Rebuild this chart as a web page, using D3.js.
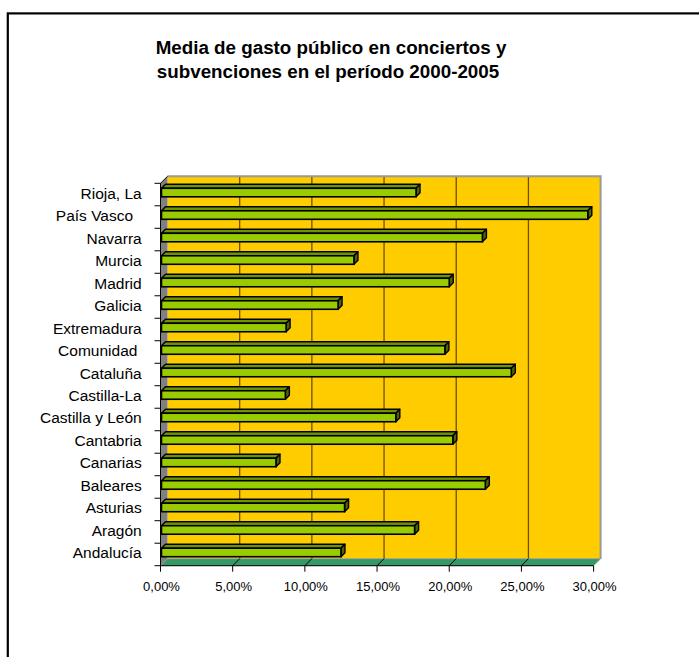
<!DOCTYPE html>
<html>
<head>
<meta charset="utf-8">
<script src="https://cdn.jsdelivr.net/npm/d3@7"></script>
<style>
body { margin: 0; background: #fff; }
text { font-family: "Liberation Sans", Arial, sans-serif; }
</style>
</head>
<body>
<div id="chart"></div>
<script>
/************** Media de gasto publico - barras 3D **************/

var categories = ['Rioja, La', 'País Vasco  ', 'Navarra', 'Murcia', 'Madrid', 'Galicia', 'Extremadura',
	'Comunidad ', 'Cataluña', 'Castilla-La', 'Castilla y León', 'Cantabria', 'Canarias', 'Baleares',
	'Asturias', 'Aragón', 'Andalucía'];
var values = [17.7, 29.6, 22.3, 13.4, 20.0, 12.3, 8.7, 19.7, 24.3, 8.65, 16.3, 20.25, 8.0, 22.5, 12.75, 17.6, 12.5];
var ticks = [0, 5, 10, 15, 20, 25, 30];
var titleLines = ['Media de gasto público en conciertos y', 'subvenciones en el período 2000-2005'];

var width = 699;
var height = 657;
var depth = 7;      // profundidad del grafico 3D
var barDepth = 4;   // profundidad de cada barra
var titleX = [331, 328];

var svg = d3.select("#chart")
	.append("svg")
	.attr("width", width)
	.attr("height", height);

// marco exterior
svg.append("rect")
	.attr("x", 7.8)
	.attr("y", 13.4)
	.attr("width", 720)
	.attr("height", 700)
	.attr("fill", "none")
	.style("stroke", "black")
	.style("stroke-width", "2.2px");

// titulo
svg.selectAll(".title")
	.data(titleLines)
	.enter()
	.append("text")
	.attr("x", function (d, i) { return titleX[i]; })
	.attr("y", function (d, i) { return 53.5 + i * 24.7; })
	.attr("text-anchor", "middle")
	.style("font-size", "18.8px")
	.style("font-weight", "bold")
	.text(function (d) { return d; });

var x = d3.scaleLinear().domain([0, 30]).range([160.5, 593.6]);
var y = d3.scaleBand().domain(categories).range([183.3, 565.7]).padding(0);

var x0 = x(0), x1 = x(30), y0 = y.range()[0], y1 = y.range()[1];

// pared del fondo
svg.append("rect")
	.attr("x", x0 + depth)
	.attr("y", y0 - depth)
	.attr("width", x1 - x0)
	.attr("height", y1 - y0)
	.attr("fill", "#FFCC00");

// lineas de division en el fondo
svg.selectAll(".grid")
	.data(ticks.slice(1, -1))
	.enter()
	.append("line")
	.attr("x1", function (d) { return x(d) + depth; })
	.attr("x2", function (d) { return x(d) + depth; })
	.attr("y1", y0 - depth)
	.attr("y2", y1 - depth)
	.style("stroke", "#6b5000")
	.style("stroke-width", "1.3px");

// borde gris del fondo (arriba y derecha)
svg.append("path")
	.attr("d", "M" + (x0 + depth) + "," + (y0 - depth) + "L" + (x1 + depth) + "," + (y0 - depth) +
		"L" + (x1 + depth) + "," + (y1 - depth))
	.attr("fill", "none")
	.style("stroke", "#999999")
	.style("stroke-width", "2px");

// pared izquierda
svg.append("path")
	.attr("d", "M" + x0 + "," + y0 + "L" + (x0 + depth) + "," + (y0 - depth) + "L" + (x0 + depth) + "," + (y1 - depth) +
		"L" + x0 + "," + y1 + "Z")
	.attr("fill", "#808080");

// suelo
svg.append("path")
	.attr("d", "M" + x0 + "," + y1 + "L" + (x0 + depth) + "," + (y1 - depth) + "L" + (x1 + depth) + "," + (y1 - depth) +
		"L" + x1 + "," + y1 + "Z")
	.attr("fill", "#339966")
	.style("stroke", "#999999")
	.style("stroke-width", "0.8px");

// diagonales del suelo
svg.selectAll(".floorLine")
	.data(ticks.slice(1, -1))
	.enter()
	.append("line")
	.attr("x1", function (d) { return x(d); })
	.attr("x2", function (d) { return x(d) + depth; })
	.attr("y1", y1)
	.attr("y2", y1 - depth)
	.style("stroke", "black")
	.style("stroke-width", "1px");

// barras
var bars = svg.selectAll(".bar")
	.data(values)
	.enter()
	.append("g");

var bx0 = x0 + 1;
function barTop(i) { return y(categories[i]) + 5; }
var barH = 8.5;

// cara superior
bars.append("path")
	.attr("d", function (d, i) {
		var t = barTop(i);
		return "M" + bx0 + "," + t + "L" + (bx0 + barDepth) + "," + (t - barDepth) +
			"L" + (x(d) + barDepth) + "," + (t - barDepth) + "L" + x(d) + "," + t + "Z";
	})
	.attr("fill", "#6f9400")
	.style("stroke", "black")
	.style("stroke-width", "1.4px")
	.style("stroke-linejoin", "round");

// cara lateral
bars.append("path")
	.attr("d", function (d, i) {
		var t = barTop(i);
		return "M" + x(d) + "," + t + "L" + (x(d) + barDepth) + "," + (t - barDepth) +
			"L" + (x(d) + barDepth) + "," + (t + barH - barDepth) + "L" + x(d) + "," + (t + barH) + "Z";
	})
	.attr("fill", "#4d6600")
	.style("stroke", "black")
	.style("stroke-width", "1.4px")
	.style("stroke-linejoin", "round");

// cara frontal
bars.append("rect")
	.attr("x", bx0)
	.attr("y", function (d, i) { return barTop(i); })
	.attr("width", function (d) { return x(d) - bx0; })
	.attr("height", barH)
	.attr("fill", "#99CC00")
	.style("stroke", "black")
	.style("stroke-width", "1.6px");

// eje de categorias
svg.append("line")
	.attr("x1", x0).attr("x2", x0)
	.attr("y1", y0).attr("y2", y1)
	.style("stroke", "black").style("stroke-width", "1px");

svg.append("line")
	.attr("x1", x0).attr("x2", x0 + depth)
	.attr("y1", y0).attr("y2", y0 - depth)
	.style("stroke", "black").style("stroke-width", "1px");

svg.selectAll(".yTick")
	.data(categories.concat(['']))
	.enter()
	.append("line")
	.attr("x1", x0 - 6)
	.attr("x2", x0)
	.attr("y1", function (d, i) { return y0 + i * y.step(); })
	.attr("y2", function (d, i) { return y0 + i * y.step(); })
	.style("stroke", "black").style("stroke-width", "1px");

svg.selectAll(".yLabel")
	.data(categories)
	.enter()
	.append("text")
	.attr("x", 141.7)
	.attr("y", function (d) { return y(d) + y.bandwidth() / 2 + 4; })
	.attr("text-anchor", "end")
	.style("font-size", "15.5px")
	.style("white-space", "pre")
	.text(function (d) { return d; });

// eje de valores
svg.append("line")
	.attr("x1", x0).attr("x2", x1)
	.attr("y1", y1).attr("y2", y1)
	.style("stroke", "black").style("stroke-width", "1px");

svg.selectAll(".xTick")
	.data(ticks)
	.enter()
	.append("line")
	.attr("x1", function (d) { return x(d); })
	.attr("x2", function (d) { return x(d); })
	.attr("y1", y1)
	.attr("y2", y1 + 6)
	.style("stroke", "black").style("stroke-width", "1px");

svg.selectAll(".xLabel")
	.data(ticks)
	.enter()
	.append("text")
	.attr("x", function (d) { return x(d) + 1; })
	.attr("y", 590.5)
	.attr("text-anchor", "middle")
	.style("font-size", "13px")
	.text(function (d) { return d3.format(".2f")(d).replace(".", ",") + "%"; });
</script>
</body>
</html>
